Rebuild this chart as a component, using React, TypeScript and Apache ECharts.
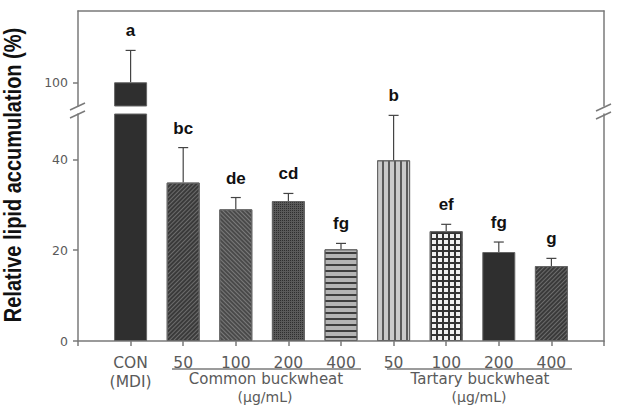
import React, { useEffect, useRef } from "react";
import * as echarts from "echarts";

const tickLabels = ["", "CON\n(MDI)", "50", "100", "200", "400", "50", "100", "200", "400", ""];
const means = [100, 34.9, 29.0, 30.8, 20.2, 39.8, 24.2, 19.6, 16.5];
const sds = [6.7, 7.7, 2.6, 1.7, 1.3, 9.9, 1.5, 2.2, 1.7];
const letters = ["a", "bc", "de", "cd", "fg", "b", "ef", "fg", "g"];
const groupNames = ["Common buckwheat", "Tartary buckwheat"];
const unitLabel = "(\u03bcg/mL)";
const yTitle = "Relative lipid accumulation (%)";
const upperTicks = [100];
const lowerTicks = [0, 20, 40];

const FONT = "'Liberation Sans', Arial, sans-serif";
const LFONT = "'DejaVu Sans', sans-serif";
const AXIS = "#7a7a7a";
const LCOL = "#5a5a5a";

const lineDecal = (rot: number, color: string, gap: number, w = 1) => ({
  symbol: "rect",
  symbolSize: 1,
  dashArrayX: [1, 0],
  dashArrayY: [w, gap],
  rotation: rot,
  color,
});

const barStyles: any[] = [
  { color: "#2f2f2f" },
  { color: "#3a3a3a", decal: lineDecal(-Math.PI / 4, "#6c6c6c", 2) },
  { color: "#4a4a4a", decal: lineDecal(Math.PI / 4, "#7a7a7a", 2) },
  { color: "#5a5a5a", decal: { symbol: "rect", symbolSize: 1, dashArrayX: [1, 1], dashArrayY: [1, 1], color: "#2e2e2e" } },
  { color: "#b4b4b4", decal: lineDecal(0, "#3e3e3e", 3.5, 1.3) },
  { color: "#cacaca", decal: lineDecal(Math.PI / 2, "#5a5a5a", 4, 1.3) },
  { color: "#333", decal: { symbol: "rect", symbolSize: 1, dashArrayX: [4, 1.1], dashArrayY: [4, 1.1], color: "#f0f0f0" } },
  { color: "#2f2f2f" },
  { color: "#3a3a3a", decal: lineDecal(-Math.PI / 4, "#6c6c6c", 2) },
];

export default function App() {
  const ref = useRef<HTMLDivElement>(null);
  useEffect(() => {
    if (!ref.current) return;
    const chart = echarts.init(ref.current, undefined, { renderer: "svg" });
    const upperMin = 95, upperMax = 115, lowerMax = 50;

    const barData = means.map((v, i) => ({
      value: [i + 1, v],
      itemStyle: { ...barStyles[i], borderColor: "#666", borderWidth: 1 },
    }));
    const errLower = means
      .map((v, i) => [i + 1, v, sds[i], i])
      .filter((d) => d[1] + d[2] <= lowerMax);
    const errUpper = means
      .map((v, i) => [i + 1, v, sds[i], i])
      .filter((d) => d[1] + d[2] > lowerMax);

    const renderErr = (params: any, api: any) => {
      const x = api.value(0), m = api.value(1), s = api.value(2), idx = api.value(3);
      const top = api.coord([x, m + s]);
      const base = api.coord([x, m]);
      const st = { stroke: "#444", lineWidth: 1.2 };
      return {
        type: "group",
        children: [
          { type: "line", shape: { x1: top[0], y1: base[1], x2: top[0], y2: top[1] }, style: st },
          { type: "line", shape: { x1: top[0] - 5, y1: top[1], x2: top[0] + 5, y2: top[1] }, style: st },
          {
            type: "text",
            x: top[0],
            y: top[1] - 11,
            style: {
              text: letters[idx],
              fontSize: 17,
              fontWeight: "bold",
              fontFamily: FONT,
              fill: "#111",
              align: "center",
              verticalAlign: "bottom",
            },
          },
        ],
      };
    };

    const line = (x1: number, y1: number, x2: number, y2: number) => ({
      type: "line",
      shape: { x1, y1, x2, y2 },
      style: { stroke: AXIS, lineWidth: 1.5 },
    });
    const txt = (x: number, y: number, text: string, size = 15.5) => ({
      type: "text",
      x,
      y,
      style: { text, fontSize: size, fontFamily: LFONT, fill: LCOL, align: "center", verticalAlign: "middle" },
    });

    chart.setOption({
      animation: false,
      grid: [
        { left: 78, width: 526, top: 11, height: 95 },
        { left: 78, width: 526, top: 114, height: 227 },
      ],
      xAxis: [
        {
          gridIndex: 0, type: "value", min: 0, max: 10, position: "top",
          axisLine: { show: true, lineStyle: { color: AXIS, width: 1.5 } },
          axisTick: { show: false }, axisLabel: { show: false }, splitLine: { show: false },
        },
        {
          gridIndex: 1, type: "value", min: 0, max: 10, interval: 1, position: "bottom",
          axisLine: { show: true, lineStyle: { color: AXIS, width: 1.5 } },
          axisTick: { show: true, length: 5, lineStyle: { color: AXIS, width: 1.5 } },
          axisLabel: {
            show: true, margin: 12, fontSize: 15.5, fontFamily: LFONT, color: LCOL, lineHeight: 19,
            verticalAlign: "top",
            formatter: (v: number) => tickLabels[Math.round(v)] ?? "",
          },
          splitLine: { show: false },
        },
      ],
      yAxis: [
        {
          gridIndex: 0, type: "value", min: upperMin, max: upperMax, interval: 5,
          axisLine: { show: true, lineStyle: { color: AXIS, width: 1.5 } },
          axisTick: { show: true, length: 5, customValues: upperTicks, lineStyle: { color: AXIS, width: 1.5 } },
          axisLabel: { show: true, customValues: upperTicks, fontSize: 12.5, fontFamily: LFONT, color: LCOL, margin: 10 },
          splitLine: { show: false },
        },
        {
          gridIndex: 0, type: "value", min: upperMin, max: upperMax, position: "right",
          axisLine: { show: true, lineStyle: { color: AXIS, width: 1.5 } },
          axisTick: { show: false }, axisLabel: { show: false }, splitLine: { show: false },
        },
        {
          gridIndex: 1, type: "value", min: 0, max: lowerMax, interval: 20,
          axisLine: { show: true, lineStyle: { color: AXIS, width: 1.5 } },
          axisTick: { show: true, length: 5, customValues: lowerTicks, lineStyle: { color: AXIS, width: 1.5 } },
          axisLabel: { show: true, customValues: lowerTicks, fontSize: 12.5, fontFamily: LFONT, color: LCOL, margin: 10 },
          splitLine: { show: false },
        },
        {
          gridIndex: 1, type: "value", min: 0, max: lowerMax, position: "right",
          axisLine: { show: true, lineStyle: { color: AXIS, width: 1.5 } },
          axisTick: { show: false }, axisLabel: { show: false }, splitLine: { show: false },
        },
      ],
      series: [
        {
          type: "bar", xAxisIndex: 0, yAxisIndex: 0, barWidth: 33, clip: true,
          data: barData.filter((d) => d.value[1] > lowerMax),
        },
        {
          type: "bar", xAxisIndex: 1, yAxisIndex: 2, barWidth: 33, clip: true,
          data: barData,
        },
        {
          type: "custom", xAxisIndex: 0, yAxisIndex: 0, renderItem: renderErr, data: errUpper, clip: false,
        },
        {
          type: "custom", xAxisIndex: 1, yAxisIndex: 2, renderItem: renderErr, data: errLower, clip: false,
        },
      ],
      graphic: [
        line(70, 110, 85, 103),
        line(70, 118, 85, 111),
        line(596, 111, 611, 104),
        line(596, 119, 611, 112),
        line(172, 369, 361, 369),
        line(387, 369, 572, 369),
        txt(266, 379, groupNames[0], 15),
        txt(265, 397, unitLabel, 14),
        txt(480, 379, groupNames[1], 15),
        txt(479, 397, unitLabel, 14),
        {
          type: "text",
          x: 13,
          y: 175,
          rotation: Math.PI / 2,
          scaleY: 1.15,
          style: {
            text: yTitle, fontSize: 20, fontWeight: "bold", fontFamily: FONT, fill: "#111",
            align: "center", verticalAlign: "middle",
          },
        },
      ],
    });
    return () => chart.dispose();
  }, []);
  return <div ref={ref} style={{ position: "absolute", left: 0, top: 0, width: 617, height: 406 }} />;
}
